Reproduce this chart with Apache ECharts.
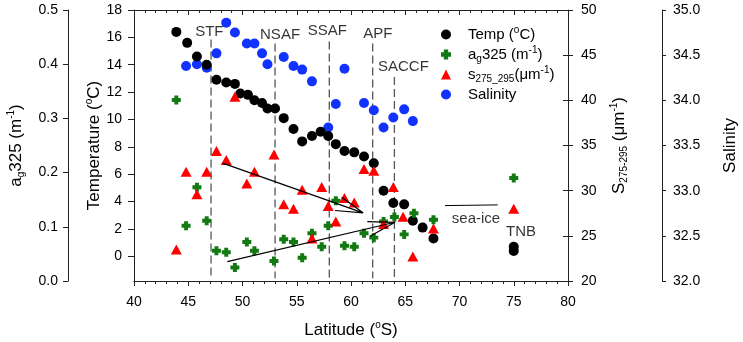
<!DOCTYPE html>
<html>
<head>
<meta charset="utf-8">
<script src="https://cdn.jsdelivr.net/npm/echarts@6.0.0/dist/echarts.min.js"></script>
<style>
  html, body { margin: 0; padding: 0; background: #ffffff; }
  #chart { width: 743px; height: 342px; }
</style>
</head>
<body>
<div id="chart"></div>
<script>
// surface water along the transect
var tempLat = [43.9, 44.9, 45.8, 46.7, 47.6, 48.5, 49.3, 49.8, 50.5, 51.1, 51.8, 52.3, 53.0, 53.8, 54.7, 55.5,
  56.4, 57.2, 57.9, 58.6, 59.4, 60.3, 61.2, 62.1, 63.0, 63.9, 64.9, 65.7, 66.6, 67.6, 75.0, 75.0]
var tempVal = [16.4, 15.6, 14.6, 14.0, 12.9, 12.7, 12.6, 11.9, 11.8, 11.4, 11.2, 10.8, 10.8, 10.1, 9.3, 8.4,
  8.8, 9.1, 8.8, 8.2, 7.7, 7.6, 7.3, 6.8, 4.8, 3.9, 3.8, 2.6, 2.1, 1.3, 0.7, 0.4]

var agLat = [43.9, 44.8, 45.8, 46.7, 47.6, 48.5, 49.3, 50.4, 51.1, 52.9, 53.8, 54.7, 55.5, 56.4, 57.3, 57.9,
  58.6, 59.4, 60.3, 61.2, 62.1, 63.0, 64.0, 64.9, 65.8, 67.6, 75.0]
var agVal = [0.334, 0.102, 0.173, 0.111, 0.056, 0.053, 0.025, 0.072, 0.056, 0.037, 0.077, 0.072, 0.043, 0.088,
  0.063, 0.102, 0.148, 0.065, 0.063, 0.088, 0.080, 0.110, 0.118, 0.086, 0.125, 0.113, 0.190]

var sLat = [43.9, 44.8, 45.8, 46.7, 47.6, 48.5, 49.3, 50.4, 51.1, 52.9, 53.8, 54.7, 55.5, 56.4, 57.3, 57.9,
  58.6, 59.4, 60.3, 61.2, 62.1, 63.0, 63.9, 64.8, 65.7, 67.6, 75.0]
var sVal = [23.5, 32.1, 29.6, 32.1, 34.4, 33.4, 40.4, 30.8, 32.1, 34.0, 28.5, 28.0, 30.1, 24.7, 30.4, 28.3,
  26.6, 29.2, 28.7, 32.4, 32.2, 26.3, 30.4, 27.1, 22.7, 25.8, 28.0]

var salLat = [44.8, 45.8, 46.7, 47.6, 48.5, 49.3, 50.4, 51.1, 51.8, 52.3, 53.8, 54.7, 55.5, 56.4, 57.9, 58.6,
  59.4, 61.2, 62.1, 63.0, 63.9, 64.9, 65.7]
var salVal = [34.38, 34.40, 34.36, 34.52, 34.86, 34.75, 34.63, 34.63, 34.52, 34.40, 34.48, 34.38, 34.34, 34.21,
  33.70, 33.96, 34.35, 33.97, 33.89, 33.70, 33.81, 33.90, 33.77]

// fronts (dashed lines), in latitude / temperature units
var frontNames = ['STF', 'NSAF', 'SSAF', 'APF', 'SACCF']
var frontLat = [47.1, 53.0, 58.0, 62.0, 64.0]
var frontTop = [15.85, 15.56, 15.7, 15.56, 13.1]
var frontBottom = -1.6
var frontLabelLat = [46.94, 53.46, 57.82, 62.47, 64.83]
var frontLabelT = [16.37, 16.17, 16.48, 16.29, 13.85]

// trend arrows, start / tip / two barbs
var arrowDown = [[48.17, 6.81], [61.11, 3.18], [59.14, 4.32], [58.53, 3.35]]
var arrowUp = [[48.6, -0.39], [64.06, 2.49], [61.5, 2.54], [61.75, 1.47]]
var seaIceLine = [[68.66, 3.71], [73.52, 3.76]]
var noteNames = ['sea-ice', 'TNB']
var noteLat = [71.52, 75.67]
var noteT = [2.74, 1.76]

var tempTicks = [0, 2, 4, 6, 8, 10, 12, 14, 16, 18]

function pairs(xs, ys) {
  return xs.map(function(x, i) { return [x, ys[i]] })
}
function arrowData(a) {
  return [a[0], a[1], a[2], '-', a[1], a[3]]
}

var richText = {
  sub: { fontSize: 10, lineHeight: 12, verticalAlign: 'bottom' },
  sup: { fontSize: 10, lineHeight: 12, verticalAlign: 'top' }
}
var fontFam = 'Liberation Sans, Arial, sans-serif'
var crossPath = 'path://M2.8,0H7.2V2.8H10V7.2H7.2V10H2.8V7.2H0V2.8H2.8Z'
var legendText = {
  Temp: 'Temp ({sup|o}C)',
  ag325: 'a{sub|g}325 (m{sup|-1})',
  s275: 's{sub|275_295}(\u03bcm{sup|-1})',
  Salinity: 'Salinity'
}

var myChart = echarts.init(document.getElementById('chart'))

var axisLine = { show: true, onZero: false, lineStyle: { color: '#222', width: 1 } }
var tickLabel = { color: '#000', fontSize: 14, fontFamily: fontFam }
var nameStyle = { color: '#000', fontSize: 17, fontFamily: fontFam, lineHeight: 20, rich: richText }

var frontSeries = frontLat.map(function(lat, i) {
  return {
    type: 'line',
    yAxisIndex: 0,
    data: [[lat, frontTop[i]], [lat, frontBottom]],
    symbol: 'none',
    silent: true,
    lineStyle: { color: '#555', width: 1.3, type: [8, 4] },
    z: 1
  }
})

var option = {
  animation: false,
  backgroundColor: '#ffffff',
  grid: { left: 134, right: 175, top: 10, bottom: 61, outerBoundsMode: 'none' },
  legend: {
    data: ['Temp', 'ag325', 's275', 'Salinity'],
    orient: 'vertical',
    left: 436,
    top: 20,
    itemWidth: 10,
    itemHeight: 10,
    itemGap: 1,
    selectedMode: false,
    formatter: function(name) { return legendText[name] },
    textStyle: {
      color: '#000', fontSize: 15, fontFamily: fontFam, lineHeight: 19,
      padding: [0, 0, 0, 12], rich: richText
    }
  },
  xAxis: [
    {
      type: 'value', position: 'bottom', min: 40, max: 80, interval: 5,
      name: 'Latitude ({sup|o}S)', nameLocation: 'middle', nameGap: 39, nameTextStyle: nameStyle,
      nameMoveOverlap: false,
      axisLine: axisLine,
      axisTick: { show: true, inside: false, length: 5, lineStyle: { color: '#222' } },
      minorTick: { show: true, splitNumber: 5, length: 3, lineStyle: { color: '#222' } },
      axisLabel: Object.assign({ margin: 14 }, tickLabel),
      splitLine: { show: false }
    },
    {
      type: 'value', position: 'top', min: 40, max: 80, interval: 5,
      axisLine: axisLine,
      axisTick: { show: true, inside: true, length: 5, lineStyle: { color: '#222' } },
      minorTick: { show: true, splitNumber: 5, length: 3, lineStyle: { color: '#222' } },
      axisLabel: { show: false },
      splitLine: { show: false }
    }
  ],
  yAxis: [
    {
      type: 'value', position: 'left', min: -1.8, max: 18,
      name: 'Temperature ({sup|o}C)', nameLocation: 'middle', nameRotate: 90, nameGap: 30,
      nameTextStyle: nameStyle, nameMoveOverlap: false,
      axisLine: axisLine,
      axisTick: { show: true, inside: false, length: 6, customValues: tempTicks, lineStyle: { color: '#222' } },
      axisLabel: Object.assign({ margin: 12, customValues: tempTicks }, tickLabel),
      splitLine: { show: false }
    },
    {
      type: 'value', position: 'left', offset: 66, min: 0, max: 0.5, interval: 0.1,
      name: 'a{sub|g}325 (m{sup|-1})', nameLocation: 'middle', nameRotate: 90, nameGap: 42,
      nameTextStyle: nameStyle, nameMoveOverlap: false,
      axisLine: axisLine,
      axisTick: { show: true, inside: false, length: 5, lineStyle: { color: '#222' } },
      axisLabel: Object.assign({
        margin: 10,
        formatter: function(v) { return v.toFixed(1) }
      }, tickLabel),
      splitLine: { show: false }
    },
    {
      type: 'value', position: 'right', min: 20, max: 50, interval: 5,
      name: 'S{sub|275-295} (\u03bcm{sup|-1})', nameLocation: 'middle', nameRotate: 90, nameGap: 41,
      nameTextStyle: nameStyle, nameMoveOverlap: false,
      axisLine: axisLine,
      axisTick: { show: true, inside: false, length: 5, lineStyle: { color: '#222' } },
      axisLabel: Object.assign({ margin: 13 }, tickLabel),
      splitLine: { show: false }
    },
    {
      type: 'value', position: 'right', min: 20, max: 50, interval: 5,
      axisLine: { show: false },
      axisTick: { show: true, inside: true, length: 5, lineStyle: { color: '#222' } },
      axisLabel: { show: false },
      splitLine: { show: false }
    },
    {
      type: 'value', position: 'right', offset: 94, min: 32, max: 35, interval: 0.5,
      name: 'Salinity', nameLocation: 'middle', nameRotate: 90, nameGap: 58,
      nameTextStyle: nameStyle, nameMoveOverlap: false,
      axisLine: axisLine,
      axisTick: { show: true, inside: false, length: 4, lineStyle: { color: '#222' } },
      axisLabel: Object.assign({
        margin: 11,
        formatter: function(v) { return v.toFixed(1) }
      }, tickLabel),
      splitLine: { show: false }
    }
  ],
  series: frontSeries.concat([
    {
      name: 'Salinity', type: 'scatter', yAxisIndex: 4,
      data: pairs(salLat, salVal), symbol: 'circle', symbolSize: 10,
      itemStyle: { color: '#1233ff', opacity: 1 }, z: 3
    },
    {
      name: 'Temp', type: 'scatter', yAxisIndex: 0,
      data: pairs(tempLat, tempVal), symbol: 'circle', symbolSize: 10,
      itemStyle: { color: '#000000', opacity: 1 }, z: 4
    },
    {
      name: 'ag325', type: 'scatter', yAxisIndex: 1,
      data: pairs(agLat, agVal), symbol: crossPath, symbolSize: 9,
      itemStyle: { color: '#137a13', opacity: 1 }, z: 5
    },
    {
      name: 's275', type: 'scatter', yAxisIndex: 2,
      data: pairs(sLat, sVal), symbol: 'triangle', symbolSize: [11, 10],
      itemStyle: { color: '#ff0000', opacity: 1 }, z: 6
    },
    {
      type: 'line', yAxisIndex: 0, data: arrowData(arrowDown), symbol: 'none', silent: true,
      lineStyle: { color: '#000', width: 1.2 }, z: 7
    },
    {
      type: 'line', yAxisIndex: 0, data: arrowData(arrowUp), symbol: 'none', silent: true,
      lineStyle: { color: '#000', width: 1.2 }, z: 7
    },
    {
      type: 'line', yAxisIndex: 0, data: seaIceLine, symbol: 'none', silent: true,
      lineStyle: { color: '#000', width: 1 }, z: 7
    },
    {
      type: 'scatter', yAxisIndex: 0, symbolSize: 0, silent: true, z: 8,
      data: frontNames.map(function(n, i) { return { name: n, value: [frontLabelLat[i], frontLabelT[i]] } })
        .concat(noteNames.map(function(n, i) { return { name: n, value: [noteLat[i], noteT[i]] } })),
      label: {
        show: true, position: 'inside', formatter: '{b}',
        color: '#000', fontSize: 15, fontFamily: fontFam
      }
    }
  ])
}
myChart.setOption(option, true)
window.addEventListener('resize', () => {
  myChart.resize()
})
</script>
</body>
</html>
